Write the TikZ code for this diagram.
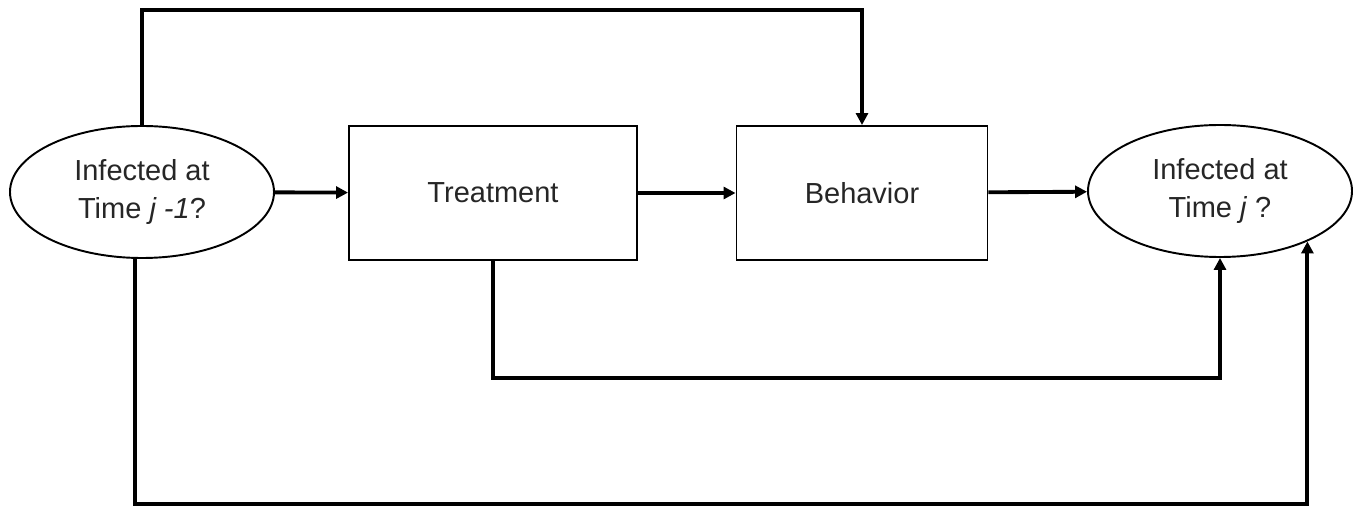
\documentclass[tikz,border=0pt]{standalone}
\usepackage{fontspec}
\setmainfont{Liberation Sans}
\usetikzlibrary{arrows.meta,shapes.geometric}
\begin{document}
\begin{tikzpicture}[x=1cm,y=1cm, font=\fontsize{16.5}{21.6}\selectfont,
  state/.style={draw, ellipse, line width=1.1pt, minimum width=5.28cm, minimum height=2.64cm, inner sep=0pt, align=center, text=black!85},
  stepbox/.style={draw, rectangle, line width=1.1pt, minimum height=2.68cm, inner sep=0pt, text=black!85},
  arr/.style={line width=2.2pt, -{Triangle[length=6.8pt,width=6.8pt]}}]
\useasboundingbox (0,0) rectangle (27.2,10.16);
\node[state] (li) at (2.84,6.32) {Infected at\\Time \textit{j -1}?};
\node[stepbox, minimum width=5.76cm] (tr) at (9.86,6.30) {Treatment};
\node[stepbox, minimum width=5.02cm] (bh) at (17.24,6.30) {Behavior};
\node[state] (ri) at (24.4,6.34) {Infected at\\Time \textit{j} ?};
\coordinate (top) at (0,9.96);
\coordinate (low) at (0,2.60);
\coordinate (bot) at (0,0.08);
\draw[arr] (li) -- (tr);
\draw[arr] (tr) -- (bh);
\draw[arr] (bh) -- (ri);
\draw[arr] (li.north) |- (top -| bh.north) -- (bh.north);
\draw[arr] (tr.south) |- (low -| ri.south) -- (ri.south);
\draw[arr] (li.-96) |- (bot -| ri.-30) -- (ri.-30);
\end{tikzpicture}
\end{document}
